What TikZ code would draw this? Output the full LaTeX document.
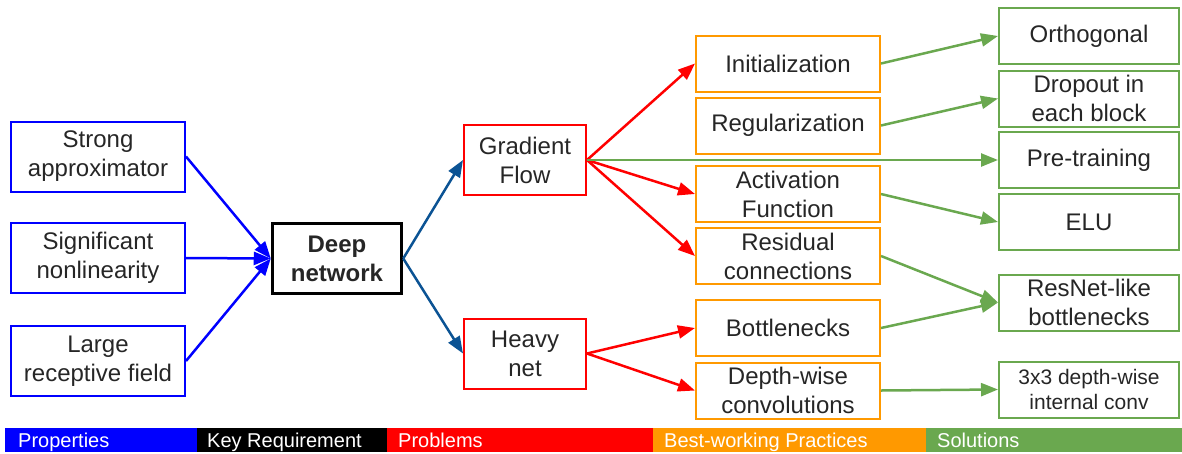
\documentclass[tikz,border=0pt]{standalone}
\usepackage{fontspec}
\setmainfont{Liberation Sans}
\usepackage{tikz}
\usetikzlibrary{arrows.meta}
\definecolor{gblue}{HTML}{0000FF}
\definecolor{gdarkblue}{HTML}{0B5394}
\definecolor{gred}{HTML}{FF0000}
\definecolor{gorange}{HTML}{FF9900}
\definecolor{ggreen}{HTML}{6AA84F}

\begin{document}
\begin{tikzpicture}
[x=1pt, y=-1pt, > = {Triangle[length=17pt,width=13pt]},
font=\fontsize{24pt}{29pt}\selectfont,
block/.style ={rectangle, draw, line width=2pt,
align=center, inner sep=0pt, text=black!85},
prop/.style ={block, draw=gblue, minimum width=174pt, minimum height=70pt},
prob/.style ={block, draw=gred, minimum width=122pt, minimum height=70pt},
prac/.style ={block, draw=gorange, minimum width=184pt, minimum height=56pt},
sol/.style ={block, draw=ggreen, minimum width=180pt, minimum height=56pt},
link/.style ={->, line width=2.5pt},
legend/.style ={anchor=base west, inner sep=0pt, text=white,
font=\fontsize{20pt}{24pt}\selectfont},
]
\useasboundingbox (0,0) rectangle (1182,453);

% properties
\node [prop] (strong) at (98,156.5) {Strong\\approximator};
\node [prop] (signif) at (98,258) {Significant\\nonlinearity};
\node [prop] (large) at (98,361) {Large\\receptive field};

% key requirement
\node [block, line width=3.5pt, minimum width=129pt, minimum height=70pt]
 (deep) at (337,258.5) {\textbf{Deep}\\\textbf{network}};

% problems
\node [prob] (grad) at (525,160) {Gradient\\Flow};
\node [prob] (heavy) at (525,353.5) {Heavy\\net};

% practices
\node [prac] (init) at (788,63.5) {Initialization};
\node [prac] (reg) at (788,125.5) {Regularization};
\node [prac] (act) at (788,194) {Activation\\Function};
\node [prac] (res) at (788,256) {Residual\\connections};
\node [prac] (bot) at (788,328) {Bottlenecks};
\node [prac] (dwc) at (788,390.5) {Depth-wise\\convolutions};

% solutions
\node [sol] (orth) at (1089,36) {Orthogonal};
\node [sol] (drop) at (1089,98.5) {Dropout in\\each block};
\node [sol] (pre) at (1089,160) {Pre-training};
\node [sol] (elu) at (1089,222) {ELU};
\node [sol] (resnet) at (1089,302.5) {ResNet-like\\bottlenecks};
\node [sol, font=\fontsize{21pt}{25pt}\selectfont] (dw3) at (1089,389.5)
 {3x3 depth-wise\\internal conv};

 \draw[link, gblue] (strong.east) -- (deep.west);
 \draw[link, gblue] (signif.east) -- (deep.west);
 \draw[link, gblue] (large.east) -- (deep.west);
 \draw[link, gdarkblue] (deep.east) -- (grad.west);
 \draw[link, gdarkblue] (deep.east) -- (heavy.west);
 \draw[link, gred] (grad.east) -- (init.west);
 \draw[link, gred] (grad.east) -- (act.west);
 \draw[link, gred] (grad.east) -- (res.west);
 \draw[link, ggreen] (grad.east) -- (pre.west);
 \draw[link, gred] (heavy.east) -- (bot.west);
 \draw[link, gred] (heavy.east) -- (dwc.west);
 \draw[link, ggreen] (init.east) -- (orth.west);
 \draw[link, ggreen] (reg.east) -- (drop.west);
 \draw[link, ggreen] (act.east) -- (elu.west);
 \draw[link, ggreen] (res.east) -- (resnet.west);
 \draw[link, ggreen] (bot.east) -- (resnet.west);
 \draw[link, ggreen] (dwc.east) -- (dw3.west);

% legend bar
 \fill[gblue] (5,428) rectangle (197,452);
 \fill[black] (197,428) rectangle (387,452);
 \fill[gred] (387,428) rectangle (653,452);
 \fill[gorange] (653,428) rectangle (926,452);
 \fill[ggreen] (926,428) rectangle (1182,452);
\node [legend] (lprop) at (18,447) {Properties};
\node [legend] (lkey) at (207,447) {Key Requirement};
\node [legend] (lprob) at (398,447) {Problems};
\node [legend] (lprac) at (664,447) {Best-working Practices};
\node [legend] (lsol) at (937,447) {Solutions};
\end{tikzpicture}
\end{document}
